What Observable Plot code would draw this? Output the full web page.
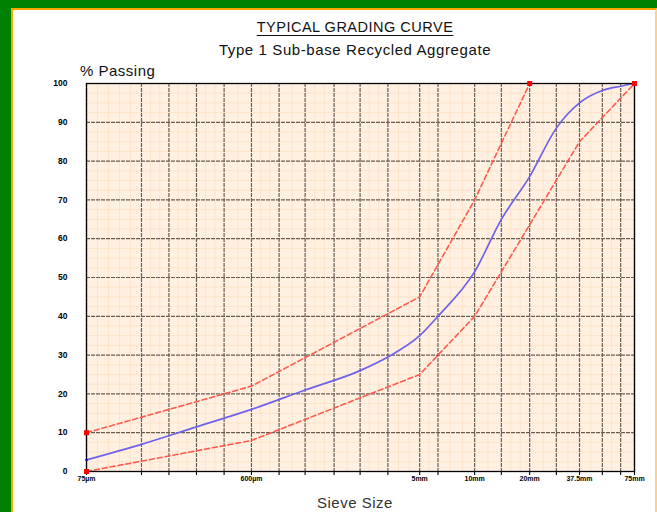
<!DOCTYPE html>
<html>
<head>
<meta charset="utf-8">
<script src="https://cdn.jsdelivr.net/npm/d3@7"></script>
<script src="https://cdn.jsdelivr.net/npm/@observablehq/plot@0.6"></script>
<style>
  html, body { margin: 0; padding: 0; }
  body { width: 657px; height: 512px; overflow: hidden; background: #008000; font-family: "Liberation Sans", Arial, sans-serif; position: relative; }
  #frame { position: absolute; left: 11px; top: 8px; width: 642px; height: 504px; background: #fff;
           border-left: 2px solid #ffa500; border-top: 2px solid #ffa500; border-right: 2px solid #ffd08a; }
  .t { position: absolute; white-space: nowrap; color: #111; }
  #title { left: 142px; width: 400px; top: 9px; text-align: center; font-size: 14.5px; letter-spacing: 0.5px; text-decoration: underline; text-underline-offset: 3px; }
  #subtitle { left: 142px; width: 400px; top: 31px; text-align: center; font-size: 15px; letter-spacing: 0.6px; }
  #ylab { left: 67px; top: 52px; font-size: 15px; letter-spacing: 0.5px; }
  #xlab { left: 304px; top: 484px; font-size: 15px; line-height: 17px; letter-spacing: 0.5px; color: #333; }
  #chart { position: absolute; left: 0; top: 50px; }
</style>
</head>
<body>
<div id="frame">
  <div class="t" id="title">TYPICAL GRADING CURVE</div>
  <div class="t" id="subtitle">Type 1 Sub-base Recycled Aggregate</div>
  <div class="t" id="ylab">% Passing</div>
  <div class="t" id="xlab">Sieve Size</div>
  <div id="chart"></div>
</div>
<script>
// Sieve sizes (mm) used for the major vertical grid lines
const sieves = [0.075, 0.15, 0.212, 0.3, 0.425, 0.6, 0.85, 1.18, 1.7, 2.36, 3.35, 5, 6.3, 10, 14, 20, 28, 37.5, 50, 63, 75];
// Labelled sieves
const labelSieves = [0.075, 0.6, 5, 10, 20, 37.5, 75];
const labelTexts = ["75µm", "600µm", "5mm", "10mm", "20mm", "37.5mm", "75mm"];
// Y ticks
const yTicks = [0, 10, 20, 30, 40, 50, 60, 70, 80, 90, 100];

// Grading envelope (upper and lower limits)
const upperSize = [0.075, 0.6, 5, 10, 20];
const upperPass = [10, 22, 45, 70, 100];
const lowerSize = [0.075, 0.6, 5, 10, 37.5, 75];
const lowerPass = [0, 8, 25, 40, 85, 100];
// Typical grading curve
const curveSize = [0.075, 0.15, 0.3, 0.6, 1.18, 2.36, 3.35, 5, 6.3, 10, 14, 20, 28, 37.5, 50, 63, 75];
const curvePass = [3, 7, 11.5, 16, 21, 26, 29.5, 35, 40, 51.5, 65, 76, 88.5, 95, 98.2, 99.3, 100];
// Limit end markers
const markSize = [0.075, 0.075, 20, 75];
const markPass = [10, 0, 100, 100];

const upper = upperSize.map((s, i) => ({s, p: upperPass[i]}));
const lower = lowerSize.map((s, i) => ({s, p: lowerPass[i]}));
const curve = curveSize.map((s, i) => ({s, p: curvePass[i]}));
const marks = markSize.map((s, i) => ({s, p: markPass[i]}));
const xLabels = labelSieves.map((s, i) => ({s, t: labelTexts[i]}));

// minor grid subdivisions
const minorX = [];
for (let i = 0; i < sieves.length - 1; i++) {
  const a = sieves[i], b = sieves[i + 1];
  const n = Math.max(1, Math.round(Math.log10(b / a) / 0.06));
  for (let k = 1; k < n; k++) minorX.push(a * Math.pow(b / a, k / n));
}
const minorY = d3.range(2.5, 100, 2.5).filter(v => Math.abs(v % 10) > 0.01);
const majorY = yTicks.filter(v => v > 0 && v < 100);

const chart = Plot.plot({
  width: 642,
  height: 452,
  marginLeft: 73,
  marginRight: 21,
  marginTop: 23,
  marginBottom: 41,
  style: {background: "transparent", fontFamily: "Liberation Sans, Arial, sans-serif", color: "#000"},
  x: {type: "log", domain: [0.075, 75], axis: null},
  y: {type: "linear", domain: [0, 100], axis: null},
  marks: [
    Plot.frame({fill: "#fff0e2"}),
    Plot.ruleX(minorX, {stroke: "#fde3c8", strokeWidth: 1}),
    Plot.ruleY(minorY, {stroke: "#fde3c8", strokeWidth: 1}),
    Plot.ruleX(sieves, {stroke: "#6a5d50", strokeWidth: 1.2, strokeDasharray: "4,1"}),
    Plot.ruleY(majorY, {stroke: "#6a5d50", strokeWidth: 1.2, strokeDasharray: "4,1"}),
    Plot.axisX(sieves, {tickSize: 4, tickFormat: () => "", label: null, stroke: "#000", strokeWidth: 1.1}),
    Plot.text(xLabels, {x: "s", text: "t", frameAnchor: "bottom", dy: 9, fontSize: 7, fontWeight: "bold", fill: "#000"}),
    Plot.text(yTicks, {y: d => d, text: d => String(d), frameAnchor: "left", dx: -19, textAnchor: "end", fontSize: 8.5, fontWeight: "bold", fill: "#000"}),
    Plot.line(upper, {x: "s", y: "p", stroke: "#ff5a4c", strokeWidth: 1.6, strokeDasharray: "5,3"}),
    Plot.line(lower, {x: "s", y: "p", stroke: "#ff5a4c", strokeWidth: 1.6, strokeDasharray: "5,3"}),
    Plot.line(curve, {x: "s", y: "p", stroke: "#6e62ea", strokeWidth: 1.7, curve: "monotone-x"}),
    Plot.frame({stroke: "#000", strokeWidth: 1.3}),
    Plot.dot(marks, {x: "s", y: "p", symbol: "square", r: 2.8, fill: "#ff0000", stroke: "none"}),
    Plot.dot([curve[0]], {x: "s", y: "p", r: 1.2, fill: "#0000cc"})
  ]
});
document.getElementById("chart").appendChild(chart);
</script>
</body>
</html>
